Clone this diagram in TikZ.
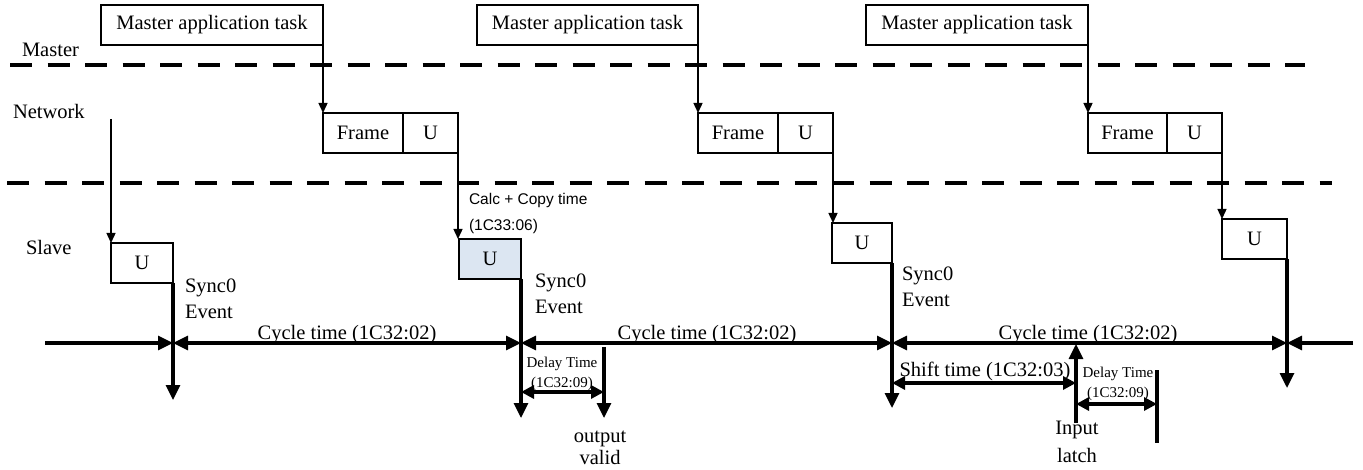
\documentclass[tikz,border=0pt]{standalone}
\usepackage{fontspec}
\setmainfont{Liberation Serif}
\newfontfamily\calcfont{Liberation Sans}
\usetikzlibrary{arrows.meta}
\definecolor{slaveblue}{RGB}{220,230,242}
\begin{document}
\begin{tikzpicture}[x=1pt,y=-1pt,
  bigtip/.tip={Triangle[length=15pt,width=14pt]},
  midtip/.tip={Triangle[length=13pt,width=13pt]},
  box/.style={draw, line width=1.4pt, inner sep=0pt, outer sep=0pt,
    minimum height=40pt, anchor=north west, font=\fontsize{20.5}{25}\selectfont},
  lbl/.style={inner sep=0pt, outer sep=0pt, font=\fontsize{20.5}{26}\selectfont},
  smalllbl/.style={inner sep=0pt, outer sep=0pt, align=center, font=\fontsize{15}{20}\selectfont},
  thinarr/.style={line width=1.4pt, -{Triangle[length=10pt,width=9pt]}},
  thickline/.style={line width=3.2pt},
  sepline/.style={line width=3.5pt, dash pattern=on 22pt off 15.5pt}
]
\useasboundingbox (0,0) rectangle (1363,470);

% lane separators
\draw[sepline] (10,65) -- (1305,65);
\draw[sepline] (7,183) -- (1332,183);

% lane labels
\node[lbl, anchor=base west] (lmaster) at (22,57) {Master};
\node[lbl, anchor=base west] (lnet) at (13,119) {Network};
\node[lbl, anchor=base west] (lslave) at (26,255) {Slave};

% master tasks
\node[box, minimum width=222pt] (m1) at (101,5) {Master application task};
\node[box, minimum width=221pt] (m2) at (477,5) {Master application task};
\node[box, minimum width=222pt] (m3) at (866,5) {Master application task};

% frames
\node[box, minimum width=80pt] (f1) at (323,113) {Frame};
\node[box, minimum width=55pt] (u1) at (f1.north east) {U};
\node[box, minimum width=80pt] (f2) at (698,113) {Frame};
\node[box, minimum width=55pt] (u2) at (f2.north east) {U};
\node[box, minimum width=79pt] (f3) at (1088,113) {Frame};
\node[box, minimum width=55pt] (u3) at (f3.north east) {U};

% slave boxes
\node[box, minimum width=62pt] (s1) at (111,243) {U};
\node[box, minimum width=62pt, fill=slaveblue] (s2) at (459,239) {U};
\node[box, minimum width=60pt] (s3) at (832,223) {U};
\node[box, minimum width=65pt] (s4) at (1222,219) {U};

% thin arrows
\coordinate (net) at (111,119);
\draw[thinarr] (net) -- (s1.north west);
\draw[thinarr] (m1.south east) -- (f1.north west);
\draw[thinarr] (m2.south east) -- (f2.north west);
\draw[thinarr] (m3.south east) -- (f3.north west);
\draw[thinarr] (u1.south east) -- (u1.south east |- s2.north);
\draw[thinarr] (u2.south east) -- (u2.south east |- s3.north);
\draw[thinarr] (u3.south east) -- (u3.south east |- s4.north);

\node[inner sep=0pt, outer sep=0pt, align=left, anchor=north west,
  font=\calcfont\fontsize{15.5}{26}\selectfont] (calc) at (469,193) {Calc + Copy time\\(1C33:06)};

% sync lines
\coordinate (t0) at (45,343);
\coordinate (t5) at (1353,343);
\coordinate (d1) at (173,400);
\coordinate (d2) at (521,418);
\coordinate (d3) at (893,408);
\coordinate (d4) at (1287,388);
\draw[thickline,-{bigtip}] (s1.south east) -- (s1.south east |- d1);
\draw[thickline,-{bigtip}] (s2.south east) -- (s2.south east |- d2);
\draw[thickline,-{bigtip}] (s3.south east) -- (s3.south east |- d3);
\draw[thickline,-{bigtip}] (s4.south east) -- (s4.south east |- d4);

\coordinate (c1) at (s1.south east |- t0);
\coordinate (c2) at (s2.south east |- t0);
\coordinate (c3) at (s3.south east |- t0);
\coordinate (c4) at (s4.south east |- t0);

\node[lbl, anchor=north west, align=left] (ev1) at (185,279) {Sync0\\Event};
\node[lbl, anchor=north west, align=left] (ev2) at (535,274) {Sync0\\Event};
\node[lbl, anchor=north west, align=left] (ev3) at (902,267) {Sync0\\Event};

% timeline
\draw[thickline,-{bigtip}] (t0) -- (c1);
\draw[thickline,{bigtip}-{bigtip}] (c1) -- (c2);
\draw[thickline,{bigtip}-{bigtip}] (c2) -- (c3);
\draw[thickline,{bigtip}-{bigtip}] (c3) -- (c4);
\draw[thickline,-{bigtip}] (t5) -- (c4);

\node[lbl, anchor=base] (cy1) at (347,340) {Cycle time (1C32:02)};
\node[lbl, anchor=base] (cy2) at (707,340) {Cycle time (1C32:02)};
\node[lbl, anchor=base] (cy3) at (1088,340) {Cycle time (1C32:02)};

% output valid
\coordinate (ovtop) at (604,347);
\coordinate (ovtip) at (604,418);
\draw[thickline,-{bigtip}] (ovtop) -- (ovtip);
\node[lbl, anchor=north, align=center, font=\fontsize{20.5}{22}\selectfont] (ov) at (600,431) {output\\valid};
\coordinate (dl1a) at (s2.south east |- 0,392);
\coordinate (dl1b) at (604,392);
\draw[thickline,{midtip}-{midtip}] (dl1a) -- (dl1b);
\node[smalllbl, anchor=north] (dt1) at (562,357) {Delay Time\\(1C32:09)};

% shift time / input latch
\coordinate (sha) at (s3.south east |- 0,383);
\coordinate (shb) at (1076,383);
\draw[thickline,{midtip}-{midtip}] (sha) -- (shb);
\node[lbl, anchor=base] (sh) at (985,377) {Shift time (1C32:03)};
\coordinate (ilbot) at (1076,423);
\coordinate (iltop) at (1076,344);
\draw[thickline,-{bigtip}] (ilbot) -- (iltop);
\node[lbl, anchor=north, align=center, font=\fontsize{20.5}{28}\selectfont] (il) at (1077,421) {Input\\latch};
\coordinate (dl2a) at (1076,404);
\coordinate (dl2b) at (1157,404);
\draw[thickline,{midtip}-{midtip}] (dl2a) -- (dl2b);
\coordinate (dl2top) at (1157,370);
\coordinate (dl2bot) at (1157,443);
\draw[thickline] (dl2top) -- (dl2bot);
\node[smalllbl, anchor=north] (dt2) at (1118,367) {Delay Time\\(1C32:09)};
\end{tikzpicture}
\end{document}
